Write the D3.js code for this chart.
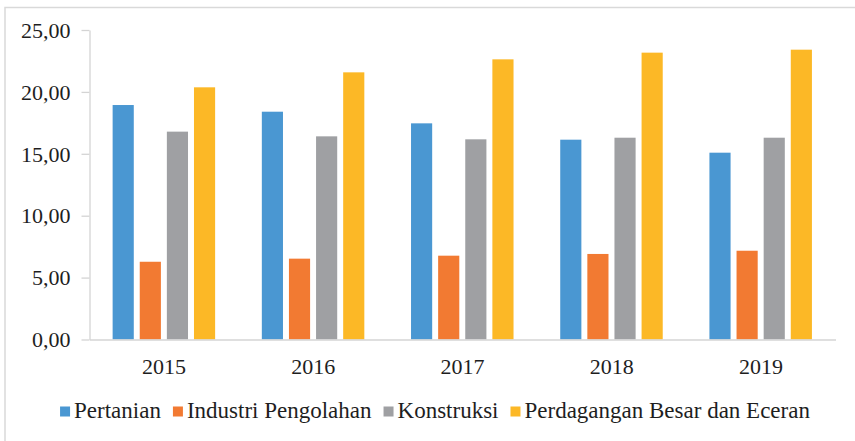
<!DOCTYPE html>
<html>
<head>
<meta charset="utf-8">
<script src="https://cdn.jsdelivr.net/npm/d3@7"></script>
<style>
  body { margin: 0; background: #fff; }
  svg { display: block; }
  svg text { font-family: "Liberation Serif", "Times New Roman", serif; }
</style>
</head>
<body>
<svg id="chart" width="855" height="441"></svg>
<script>
// data
let years = ["2015", "2016", "2017", "2018", "2019"];
let seriesNames = ["Pertanian", "Industri Pengolahan", "Konstruksi", "Perdagangan Besar dan Eceran"];
let pertanian   = [18.94, 18.40, 17.46, 16.14, 15.09];
let industri    = [6.28, 6.53, 6.77, 6.91, 7.17];
let konstruksi  = [16.79, 16.41, 16.17, 16.30, 16.30];
let perdagangan = [20.37, 21.58, 22.63, 23.17, 23.41];
let yTicks = [0, 5, 10, 15, 20, 25];
let colors = ["#4a97d2", "#f27a32", "#9fa0a3", "#fcb826"];

let allSeries = [pertanian, industri, konstruksi, perdagangan];
let serif = "'Liberation Serif', 'Times New Roman', serif";

var svg = d3.select("#chart");

// outer frame (runs off the right and bottom edge in the original)
svg.append("rect")
  .attr("x", 5).attr("y", 7.5)
  .attr("width", 870).attr("height", 450)
  .attr("fill", "none")
  .attr("stroke", "#d9d9d9")
  .attr("stroke-width", 1.5);

let plotLeft = 89.5, plotRight = 835.5, plotTop = 30, plotBottom = 339.5;

let y = d3.scaleLinear().domain([0, 25]).range([plotBottom, plotTop]);

let x0 = d3.scaleBand().domain(years).range([plotLeft, plotRight]).padding(0);
let bw = x0.bandwidth();
let x1 = d3.scaleBand()
  .domain(seriesNames)
  .range([bw * 0.155, bw * 0.842])
  .paddingInner(0.22)
  .paddingOuter(0);

// y axis
let yAxis = d3.axisLeft(y)
  .tickValues(yTicks)
  .tickSize(8)
  .tickSizeOuter(0)
  .tickPadding(11)
  .tickFormat(d => d.toFixed(2).replace(".", ","));

let yGroup = svg.append("g")
  .attr("transform", "translate(" + plotLeft + ",0)")
  .call(yAxis)
  .attr("font-family", serif)
  .attr("font-size", 22);
yGroup.selectAll("path, line").attr("stroke", "#d4d4d4").attr("stroke-width", 1.3);
yGroup.selectAll("text")
  .attr("fill", "#1e1e1e")
  .attr("dy", "0.33em");

// bars
let groups = svg.append("g").selectAll("g")
  .data(years)
  .enter().append("g")
  .attr("transform", d => "translate(" + x0(d) + ",0)");

groups.selectAll("rect")
  .data((d, i) => seriesNames.map((s, k) => ({ s: s, k: k, v: allSeries[k][i] })))
  .enter().append("rect")
  .attr("x", d => x1(d.s))
  .attr("width", x1.bandwidth())
  .attr("y", d => y(d.v))
  .attr("height", d => y(0) - y(d.v))
  .attr("fill", d => colors[d.k]);

// x axis
let xAxis = d3.axisBottom(x0).tickSize(0).tickSizeOuter(0).tickPadding(18.5);
let xGroup = svg.append("g")
  .attr("transform", "translate(0," + plotBottom + ")")
  .call(xAxis)
  .attr("font-family", serif)
  .attr("font-size", 22);
xGroup.select("path").attr("stroke", "#d4d4d4").attr("stroke-width", 1.3);
xGroup.selectAll("text")
  .attr("fill", "#1e1e1e");

// legend
let legend = svg.append("g");
let lx = 0;
seriesNames.forEach(function(name, k) {
  let item = legend.append("g").attr("transform", "translate(" + lx + ",0)");
  item.append("rect")
    .attr("x", 0).attr("y", 406.5)
    .attr("width", 10).attr("height", 10)
    .attr("fill", colors[k]);
  let t = item.append("text")
    .attr("x", 14).attr("y", 418.3)
    .attr("fill", "#1e1e1e")
    .attr("font-family", serif)
    .attr("font-size", 23)
    .text(name);
  lx += 14 + t.node().getComputedTextLength() + 12;
});
lx -= 12;
legend.attr("transform", "translate(" + (435 - lx / 2) + ",0)");
</script>
</body>
</html>
